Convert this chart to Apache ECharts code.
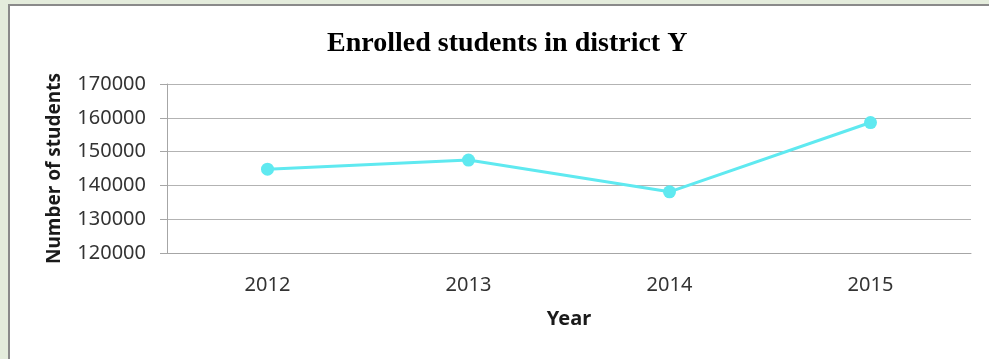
<!DOCTYPE html>
<html>
<head>
<meta charset="utf-8">
<script src="https://cdn.jsdelivr.net/npm/echarts@6/dist/echarts.min.js"></script>
<style>
  body { margin: 0; background: #e4ecdc; overflow: hidden; }
  #frame { position: absolute; left: 8px; top: 4px; width: 1000px; height: 400px; background: #fff; border: 2px solid #8a8a8a; }
  #main { position: absolute; left: 0; top: 0; width: 989px; height: 359px; }
</style>
</head>
<body>
<div id="frame"></div>
<div id="main"></div>
<script>
// data
const years = ['2012', '2013', '2014', '2015']
const students = [144800, 147500, 138100, 158600]

const labelFont = 'Noto Sans'

const chart = echarts.init(document.getElementById('main'))
chart.setOption({
  backgroundColor: 'transparent',
  animation: false,
  title: {
    text: 'Enrolled students in district Y',
    left: 322,
    top: 25,
    textStyle: {
      fontFamily: 'Liberation Serif',
      fontWeight: 'bold',
      fontSize: 28,
      color: '#000',
    },
  },
  grid: {
    left: 167,
    right: 18,
    top: 84,
    bottom: 106,
  },
  xAxis: {
    type: 'category',
    data: years,
    name: 'Year',
    nameLocation: 'middle',
    nameGap: 56,
    nameTextStyle: {
      fontFamily: labelFont,
      fontWeight: 'bold',
      fontSize: 20,
      color: '#1a1a1a',
    },
    axisLine: { lineStyle: { color: '#a6a6a6', width: 1 } },
    axisTick: { show: false },
    axisLabel: {
      margin: 22,
      fontFamily: labelFont,
      fontSize: 20,
      color: '#333',
    },
  },
  yAxis: {
    type: 'value',
    min: 120000,
    max: 170000,
    interval: 10000,
    name: 'Number of students',
    nameLocation: 'middle',
    nameRotate: 90,
    nameGap: 103,
    nameTextStyle: {
      fontFamily: labelFont,
      fontWeight: 'bold',
      fontSize: 19,
      color: '#1a1a1a',
    },
    axisLine: { show: true, lineStyle: { color: '#a6a6a6', width: 1 } },
    axisTick: { show: true, length: 7, lineStyle: { color: '#a6a6a6' } },
    axisLabel: {
      margin: 21,
      fontFamily: labelFont,
      fontSize: 20,
      color: '#333',
      formatter: (v) => String(v),
    },
    splitLine: { lineStyle: { color: '#b3b3b3', width: 1 } },
  },
  series: [
    {
      name: 'Enrolled students',
      type: 'line',
      data: students,
      symbol: 'circle',
      symbolSize: 13,
      itemStyle: { color: '#5fe9f0' },
      lineStyle: { color: '#5fe9f0', width: 3 },
    },
  ],
})
</script>
</body>
</html>
